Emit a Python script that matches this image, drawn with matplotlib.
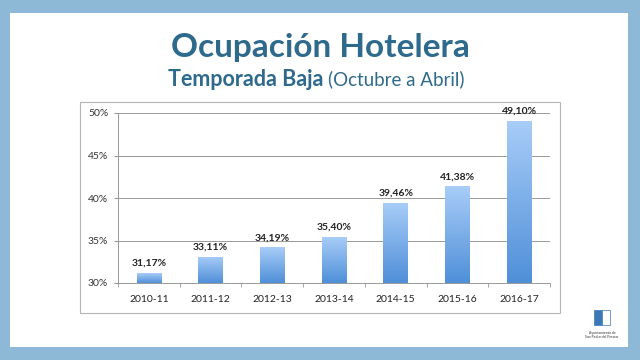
import matplotlib.pyplot as plt
import matplotlib.patches as mpatches
import numpy as np
from matplotlib.colors import LinearSegmentedColormap

seasons = ["2010-11", "2011-12", "2012-13", "2013-14", "2014-15", "2015-16", "2016-17"]
occupancy = [31.17, 33.11, 34.19, 35.40, 39.46, 41.38, 49.10]
y_ticks = [30, 35, 40, 45, 50]

plt.rcParams['font.family'] = ['Lato', 'DejaVu Sans']

fig = plt.figure(figsize=(6.4, 3.6), dpi=100)
fig.patch.set_facecolor("#8db9d6")

# white slide area
fig.add_artist(mpatches.Rectangle((10 / 640, 1 - 347 / 360), 618 / 640, 334 / 360,
                                  transform=fig.transFigure, facecolor="white",
                                  edgecolor="none", zorder=-2))
# chart box
fig.add_artist(mpatches.Rectangle((80 / 640, 1 - 313 / 360), 480 / 640, 211 / 360,
                                  transform=fig.transFigure, facecolor="white",
                                  edgecolor="#b5b5b5", linewidth=0.8, zorder=-1))

fig.text(0.5, 1 - 47 / 360, "Ocupación Hotelera", ha="center", va="center",
         fontsize=24, fontweight="bold", color="#2e6a8c")
fig.text(0.513, 1 - 79 / 360, "Temporada Baja ", ha="right", va="center",
         fontsize=15.5, fontweight="bold", color="#2e6a8c")
fig.text(0.513, 1 - 79 / 360, "(Octubre a Abril)", ha="left", va="center",
         fontsize=13.5, color="#2e6a8c")

ax = fig.add_axes([118 / 640, 1 - 283 / 360, 432 / 640, 170 / 360])
ax.set_zorder(2)
ax.set_facecolor("none")

x = np.arange(len(seasons))
bars = ax.bar(x, occupancy, width=0.4, bottom=0, color="none", zorder=3)
ax.set_ylim(30, 50)
ax.set_xlim(-0.5, len(seasons) - 0.5)

cmap = LinearSegmentedColormap.from_list("grad", ["#4f8fd8", "#a8cdf8"])
grad = np.linspace(0, 1, 256).reshape(-1, 1)
for b, v in zip(bars, occupancy):
    x0 = b.get_x()
    w = b.get_width()
    im = ax.imshow(grad, extent=[x0, x0 + w, 30, v], origin="lower", cmap=cmap,
                   aspect="auto", zorder=3)
    im.set_clip_path(b)
    ax.text(b.get_x() + w / 2, v + 0.6, f"{v:.2f}%".replace(".", ","),
            ha="center", va="bottom", fontsize=7.5, fontweight="bold", color="#222222")

ax.set_aspect("auto")
ax.set_xlim(-0.5, len(seasons) - 0.5)
ax.set_ylim(30, 50)
ax.set_yticks(y_ticks)
ax.set_yticklabels([f"{t}%" for t in y_ticks], fontsize=7.5, color="#333333")
ax.set_xticks(x)
ax.set_xticklabels(seasons, fontsize=7.5, color="#222222")
ax.set_xticks(np.arange(-0.5, len(seasons)), minor=True)
ax.tick_params(axis="x", which="major", length=0, pad=9)
ax.tick_params(axis="x", which="minor", length=3, color="#999999", direction="out")
ax.tick_params(axis="y", length=3, color="#999999", pad=4)
ax.grid(axis="y", color="#999999", linewidth=0.7, zorder=1)
for s in ["top", "right"]:
    ax.spines[s].set_visible(False)
for s in ["left", "bottom"]:
    ax.spines[s].set_color("#999999")
    ax.spines[s].set_linewidth(0.7)

# simple crest at bottom right
fig.add_artist(mpatches.Rectangle((594 / 640, 1 - 325 / 360), 8 / 640, 15 / 360,
                                  transform=fig.transFigure, facecolor="#3a78b8",
                                  edgecolor="#3a78b8", linewidth=0.5, zorder=3))
fig.add_artist(mpatches.Rectangle((602 / 640, 1 - 325 / 360), 8 / 640, 15 / 360,
                                  transform=fig.transFigure, facecolor="white",
                                  edgecolor="#3a78b8", linewidth=0.5, zorder=3))
fig.text(602 / 640, 1 - 335 / 360, "Ayuntamiento de\nSan Pedro del Pinatar", ha="center",
         va="center", fontsize=2.5, color="#333333")

fig.savefig("out.png", dpi=100, facecolor=fig.get_facecolor())
